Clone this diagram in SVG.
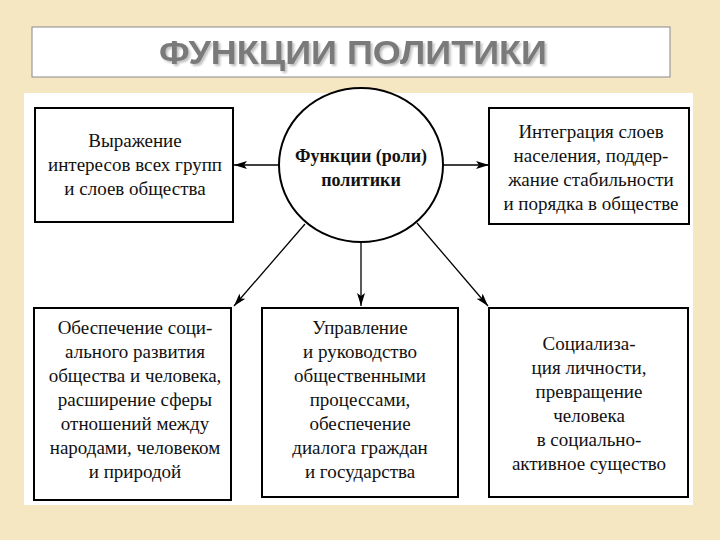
<svg xmlns="http://www.w3.org/2000/svg" width="720" height="540" viewBox="0 0 720 540">
<defs>
<style>
.box{fill:#fff;stroke:#000;stroke-width:2}
.t{font-family:"Liberation Serif","Times New Roman",serif;font-size:19px;fill:#111;text-anchor:middle}
.tb{font-family:"Liberation Serif","Times New Roman",serif;font-size:18px;font-weight:bold;fill:#111;text-anchor:middle}
.ln{stroke:#000;stroke-width:1.3;fill:none;marker-end:url(#ah)}
</style>
<marker id="ah" viewBox="0 0 13 8" refX="13" refY="4" markerWidth="13" markerHeight="8" markerUnits="userSpaceOnUse" orient="auto">
<path d="M0,0 L13,4 L0,8 L3,4 Z" fill="#000"/>
</marker>
<filter id="sh" x="-5%" y="-20%" width="110%" height="150%">
<feGaussianBlur in="SourceAlpha" stdDeviation="1"/>
<feOffset dx="2" dy="2" result="b"/>
<feComponentTransfer><feFuncA type="linear" slope="0.25"/></feComponentTransfer>
<feMerge><feMergeNode/><feMergeNode in="SourceGraphic"/></feMerge>
</filter>
</defs>
<rect width="720" height="540" fill="#f6e7c3"/>
<g id="title">
<rect x="32" y="27" width="638" height="50" fill="#fff" stroke="#8a8a8a" stroke-width="1"/>
<text x="353" y="64" font-family="Liberation Sans,Arial,sans-serif" font-size="34" font-weight="bold" fill="#7a7a7a" text-anchor="middle" textLength="388" lengthAdjust="spacingAndGlyphs" filter="url(#sh)">ФУНКЦИИ ПОЛИТИКИ</text>
</g>
<rect x="24" y="93" width="669" height="412" fill="#fff"/>
<g id="connectors">
<line class="ln" x1="279" y1="165" x2="234" y2="165"/>
<line class="ln" x1="443" y1="165" x2="489" y2="165"/>
<line class="ln" x1="305" y1="224" x2="234" y2="306"/>
<line class="ln" x1="361" y1="242" x2="361" y2="306"/>
<line class="ln" x1="417" y1="223" x2="488" y2="306"/>
</g>
<g id="center">
<ellipse cx="361" cy="165" rx="82" ry="77" fill="#fff" stroke="#000" stroke-width="2"/>
<text class="tb" x="361" y="162">Функции (роли)</text>
<text class="tb" x="361" y="186">политики</text>
</g>
<g id="n1">
<rect class="box" x="35" y="108" width="198" height="114"/>
<text class="t" x="135" y="147">Выражение</text>
<text class="t" x="135" y="171">интересов всех групп</text>
<text class="t" x="135" y="195">и слоев общества</text>
</g>
<g id="n2">
<rect class="box" x="489" y="108" width="200" height="116"/>
<text class="t" x="591" y="138">Интеграция слоев</text>
<text class="t" x="591" y="162">населения, поддер-</text>
<text class="t" x="591" y="186">жание стабильности</text>
<text class="t" x="591" y="210">и порядка в обществе</text>
</g>
<g id="n3">
<rect class="box" x="34" y="308" width="197" height="192"/>
<text class="t" x="135" y="334">Обеспечение соци-</text>
<text class="t" x="135" y="358">ального развития</text>
<text class="t" x="135" y="382">общества и человека,</text>
<text class="t" x="135" y="406">расширение сферы</text>
<text class="t" x="135" y="430">отношений между</text>
<text class="t" x="135" y="454">народами, человеком</text>
<text class="t" x="135" y="478">и природой</text>
</g>
<g id="n4">
<rect class="box" x="262" y="308" width="196" height="189"/>
<text class="t" x="360" y="334">Управление</text>
<text class="t" x="360" y="358">и руководство</text>
<text class="t" x="360" y="382">общественными</text>
<text class="t" x="360" y="406">процессами,</text>
<text class="t" x="360" y="430">обеспечение</text>
<text class="t" x="360" y="454">диалога граждан</text>
<text class="t" x="360" y="478">и государства</text>
</g>
<g id="n5">
<rect class="box" x="489" y="308" width="199" height="189"/>
<text class="t" x="589" y="350">Социализа-</text>
<text class="t" x="589" y="374">ция личности,</text>
<text class="t" x="589" y="398">превращение</text>
<text class="t" x="589" y="422">человека</text>
<text class="t" x="589" y="446">в социально-</text>
<text class="t" x="589" y="470">активное существо</text>
</g>
</svg>
